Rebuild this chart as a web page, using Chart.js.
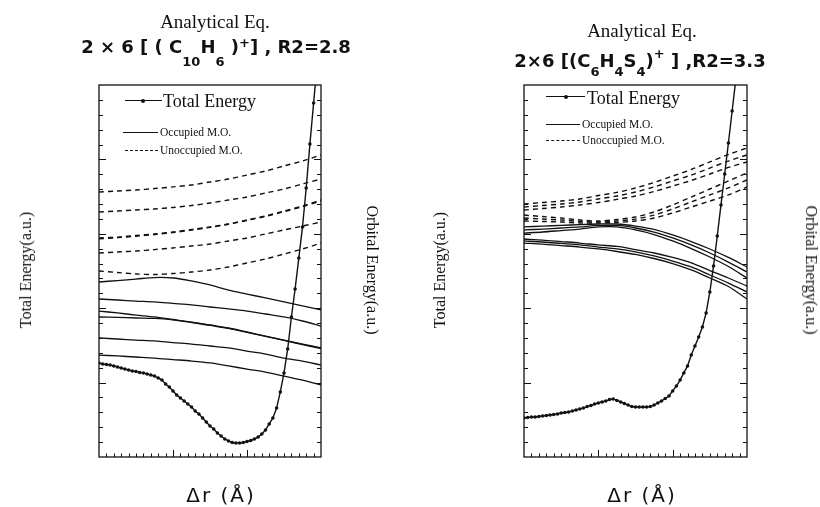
<!DOCTYPE html>
<html><head><meta charset="utf-8">
<script src="https://cdn.jsdelivr.net/npm/chart.js@4.4.1/dist/chart.umd.min.js"></script>
<style>
html,body{margin:0;padding:0;background:#fff;}
body{width:820px;height:507px;position:relative;overflow:hidden;font-family:"Liberation Serif","Times New Roman",serif;color:#111;}
canvas{position:absolute;top:0;}
.t{position:absolute;white-space:nowrap;line-height:1;}
.c{transform:translateX(-50%);}
.rl{transform:translate(-50%,-50%) rotate(-90deg);font-size:16px;}
.rr{transform:translate(-50%,-50%) rotate(90deg);font-size:16px;}
.f{font-family:"DejaVu Sans",sans-serif;font-weight:bold;font-size:18px;}
.f .s{position:relative;font-size:13px;}
.f .p{position:relative;font-size:13px;}
.dr{font-family:"DejaVu Sans",sans-serif;font-size:20px;letter-spacing:2px;}
.ln{position:absolute;height:0;border-top:1.3px solid #111;}
.ds{position:absolute;height:0;border-top:1.3px dashed #111;}
.dot{position:absolute;width:4px;height:4px;border-radius:50%;background:#111;}
.lg{font-size:18px;}
.lg2{font-size:11.5px;}
</style>
</head><body>
<canvas id="cL" width="410" height="507" style="left:0"></canvas>
<canvas id="cR" width="410" height="507" style="left:410px"></canvas>

<div class="t c" style="left:215px;top:12px;font-size:19px;">Analytical Eq.</div>
<div class="t c f" style="left:216px;top:38px;">2 × 6 [ ( C<span class="s" style="top:13px">10</span>H<span class="s" style="top:13px">6</span> )<span class="p" style="top:-6px">+</span>] , R2=2.8</div>
<div class="t c" style="left:642px;top:21px;font-size:19px;">Analytical Eq.</div>
<div class="t c f" style="left:640px;top:52px;">2×6 [(C<span class="s" style="top:9px">6</span>H<span class="s" style="top:9px">4</span>S<span class="s" style="top:9px">4</span>)<span class="p" style="top:-9px">+</span> ] ,R2=3.3</div>

<div class="t rl" style="left:26px;top:270px;">Total Energy(a.u.)</div>
<div class="t rr" style="left:372px;top:270px;">Orbital Energy(a.u.)</div>
<div class="t rl" style="left:440px;top:270px;">Total Energy(a.u.)</div>
<div class="t rr" style="left:811px;top:270px;">Orbital Energy(a.u.)</div>

<div class="t c dr" style="left:221px;top:485px;">Δr (Å)</div>
<div class="t c dr" style="left:642px;top:485px;">Δr (Å)</div>

<!-- legends -->
<div class="ln" style="left:125px;top:100px;width:37px;"></div><div class="dot" style="left:141px;top:99px;"></div>
<div class="t lg" style="left:163px;top:92px;">Total Energy</div>
<div class="ln" style="left:123px;top:132px;width:35px;"></div>
<div class="t lg2" style="left:160px;top:127px;">Occupied M.O.</div>
<div class="ds" style="left:125px;top:150px;width:33px;"></div>
<div class="t lg2" style="left:160px;top:145px;">Unoccupied M.O.</div>

<div class="ln" style="left:546px;top:96px;width:39px;"></div><div class="dot" style="left:564px;top:95px;"></div>
<div class="t lg" style="left:587px;top:89px;">Total Energy</div>
<div class="ln" style="left:546px;top:124px;width:34px;"></div>
<div class="t lg2" style="left:582px;top:119px;">Occupied M.O.</div>
<div class="ds" style="left:546px;top:140px;width:34px;"></div>
<div class="t lg2" style="left:582px;top:135px;">Unoccupied M.O.</div>

<script>
// ---- data ----
const xTotalL = [0,0.05,0.1,0.15,0.2,0.25,0.3,0.35,0.4,0.45,0.5,0.55,0.6,0.65,0.7,0.75,0.8,0.85,0.9,0.95,1,1.05,1.1,1.15,1.2,1.25,1.3,1.35,1.4,1.45,1.5,1.55,1.6,1.65,1.7,1.75,1.8,1.85,1.9,1.95,2,2.05,2.1,2.15,2.2,2.25,2.3,2.35,2.4,2.45,2.5,2.55,2.6,2.65,2.7,2.75,2.8,2.85,2.9,2.95];
const totalL = [6.32,6.25,6.22,6.18,6.12,6.05,5.98,5.91,5.85,5.78,5.75,5.68,5.65,5.58,5.51,5.44,5.31,5.17,4.91,4.70,4.44,4.17,3.97,3.76,3.56,3.36,3.09,2.89,2.62,2.35,2.08,1.88,1.61,1.41,1.21,1.08,0.97,0.94,0.94,0.97,1.04,1.11,1.21,1.34,1.55,1.81,2.22,2.62,3.29,4.37,5.65,7.26,9.41,11.29,13.37,15.46,18.08,21.03,23.79,26.5];
const xTotalR = [0,0.05,0.1,0.15,0.2,0.25,0.3,0.35,0.4,0.45,0.5,0.55,0.6,0.65,0.7,0.75,0.8,0.85,0.9,0.95,1,1.05,1.1,1.15,1.2,1.25,1.3,1.35,1.4,1.45,1.5,1.55,1.6,1.65,1.7,1.75,1.8,1.85,1.9,1.95,2,2.05,2.1,2.15,2.2,2.25,2.3,2.35,2.4,2.45,2.5,2.55,2.6,2.65,2.7,2.75,2.8,2.85];
const totalR = [2.62,2.65,2.69,2.69,2.72,2.76,2.79,2.82,2.86,2.89,2.96,2.99,3.02,3.09,3.16,3.23,3.29,3.39,3.46,3.56,3.63,3.70,3.76,3.86,3.90,3.80,3.70,3.60,3.49,3.39,3.36,3.36,3.36,3.36,3.39,3.49,3.63,3.76,3.93,4.10,4.44,4.77,5.17,5.65,6.12,6.85,7.46,8.06,8.74,9.68,11.09,12.84,14.85,16.94,19.02,21.10,23.25,25.40];

const xOrb = [0,0.25,0.5,0.75,1,1.25,1.5,1.75,2,2.25,2.5,2.75,3];

const occL1 = [11.76,11.86,11.96,12.06,12.03,11.83,11.56,11.22,10.95,10.69,10.42,10.15,9.88];
const occL2 = [10.62,10.55,10.48,10.42,10.32,10.22,10.08,9.95,9.81,9.61,9.41,9.14,8.80];
const occL3 = [9.81,9.68,9.54,9.41,9.24,9.07,8.87,8.67,8.40,8.13,7.86,7.59,7.33];
const occL4 = [9.41,9.38,9.34,9.31,9.21,9.04,8.84,8.64,8.37,8.10,7.83,7.56,7.29];
const occL5 = [8.00,7.93,7.86,7.80,7.69,7.59,7.46,7.33,7.12,6.92,6.65,6.45,6.18];
const occL6 = [6.85,6.79,6.72,6.65,6.55,6.45,6.32,6.12,5.91,5.71,5.44,5.17,4.84];

const unoL1 = [17.81,17.88,17.94,18.04,18.15,18.28,18.48,18.68,18.95,19.22,19.56,19.89,20.30];
const unoL2 = [16.47,16.53,16.60,16.67,16.77,16.90,17.07,17.27,17.47,17.74,18.01,18.35,18.68];
const unoL3 = [14.72,14.78,14.89,14.99,15.12,15.29,15.46,15.66,15.93,16.20,16.53,16.87,17.27];
const unoL4 = [14.66,14.74,14.84,14.95,15.08,15.25,15.43,15.64,15.90,16.17,16.49,16.82,17.20];
const unoL5 = [13.71,13.78,13.84,13.94,14.05,14.18,14.31,14.52,14.72,14.99,15.26,15.52,15.79];
const unoL6 = [12.50,12.40,12.30,12.26,12.33,12.43,12.57,12.77,13.04,13.31,13.64,13.98,14.38];

const occR1 = [15.46,15.52,15.56,15.62,15.66,15.66,15.52,15.29,14.92,14.48,13.98,13.41,12.77];
const occR2 = [15.26,15.32,15.39,15.46,15.56,15.56,15.39,15.12,14.72,14.25,13.71,13.10,12.43];
const occR3 = [15.05,15.12,15.22,15.32,15.46,15.46,15.26,14.95,14.52,14.01,13.44,12.80,12.03];
const occR4 = [14.65,14.58,14.48,14.38,14.25,14.15,13.94,13.71,13.41,13.04,12.53,12.03,11.49];
const occR5 = [14.52,14.45,14.35,14.25,14.11,13.98,13.78,13.51,13.17,12.77,12.23,11.69,11.09];
const occR6 = [14.38,14.31,14.21,14.11,13.98,13.81,13.61,13.34,13.00,12.57,12.03,11.46,10.62];

const unoR1 = [17.00,17.10,17.20,17.34,17.57,17.78,18.08,18.45,18.88,19.32,19.83,20.33,20.77];
const unoR2 = [16.80,16.90,17.00,17.14,17.34,17.54,17.81,18.15,18.55,18.95,19.42,19.89,20.30];
const unoR3 = [16.60,16.70,16.80,16.94,17.10,17.31,17.54,17.84,18.21,18.58,19.02,19.46,19.83];
const unoR4 = [16.26,16.16,16.06,15.93,15.86,15.96,16.13,16.47,16.94,17.47,18.01,18.55,19.09];
const unoR5 = [16.06,15.99,15.93,15.83,15.79,15.86,15.99,16.26,16.67,17.14,17.61,18.08,18.62];
const unoR6 = [15.86,15.83,15.79,15.73,15.73,15.76,15.86,16.06,16.40,16.80,17.20,17.61,18.15];

// axis ranges / tick steps
const xMin = 0, xMax = 3, xMinor = 0.1, xMajor = 1;
const yMin = 0, yMax = 25, yMinor = 1, yMajor = 5;

const INK = '#111';

const framePlugin = {
  id: 'frame',
  afterDraw(chart) {
    const {ctx, chartArea: a, scales} = chart;
    ctx.save();
    ctx.strokeStyle = INK;
    ctx.lineWidth = 1.3;
    ctx.strokeRect(a.left, a.top, a.right - a.left, a.bottom - a.top);
    ctx.lineWidth = 1;
    ctx.beginPath();
    const nx = Math.round((xMax - xMin) / xMinor);
    for (let i = 1; i < nx; i++) {
      const v = xMin + i * xMinor;
      const px = Math.round(scales.x.getPixelForValue(v)) + 0.5;
      const len = (i % Math.round(xMajor / xMinor) === 0) ? 7 : 3.5;
      ctx.moveTo(px, a.bottom); ctx.lineTo(px, a.bottom - len);
    }
    const ny = Math.round((yMax - yMin) / yMinor);
    for (let i = 1; i < ny; i++) {
      const v = yMin + i * yMinor;
      const major = (i % Math.round(yMajor / yMinor) === 0);
      const pl = Math.round(scales.y.getPixelForValue(v)) + 0.5;
      const pr = Math.round(scales.y2.getPixelForValue(v)) + 0.5;
      ctx.moveTo(a.left, pl); ctx.lineTo(a.left + (major ? 7 : 4), pl);
      ctx.moveTo(a.right, pr); ctx.lineTo(a.right - (major ? 7 : 4), pr);
    }
    ctx.stroke();
    ctx.restore();
  }
};

function pts(xs, ys) { return xs.map((x, i) => ({x, y: ys[i]})); }

function makePanel(id, pad, xT, tot, occ, uno) {
  const datasets = [{
    label: 'Total Energy', data: pts(xT, tot), yAxisID: 'y',
    borderColor: INK, borderWidth: 1.4, pointRadius: 1.8, pointBackgroundColor: INK,
    pointBorderWidth: 0, tension: 0
  }];
  occ.forEach(s => datasets.push({
    label: 'Occupied M.O.', data: pts(xOrb, s), yAxisID: 'y2',
    borderColor: INK, borderWidth: 1.3, pointRadius: 0, tension: 0.3
  }));
  uno.forEach(s => datasets.push({
    label: 'Unoccupied M.O.', data: pts(xOrb, s), yAxisID: 'y2',
    borderColor: INK, borderWidth: 1.4, borderDash: [5, 4], pointRadius: 0, tension: 0.3
  }));
  new Chart(document.getElementById(id), {
    type: 'line',
    data: {datasets},
    options: {
      responsive: false, animation: false, devicePixelRatio: 1,
      layout: {padding: pad},
      plugins: {legend: {display: false}, tooltip: {enabled: false}, title: {display: false}},
      scales: {
        x: {type: 'linear', min: xMin, max: xMax, display: false},
        y: {type: 'linear', min: yMin, max: yMax, display: false, position: 'left'},
        y2: {type: 'linear', min: yMin, max: yMax, display: false, position: 'right'}
      }
    },
    plugins: [framePlugin]
  });
}

makePanel('cL', {left: 99, right: 89, top: 85, bottom: 50}, xTotalL, totalL,
  [occL1, occL2, occL3, occL4, occL5, occL6], [unoL1, unoL2, unoL3, unoL4, unoL5, unoL6]);
makePanel('cR', {left: 114, right: 73, top: 85, bottom: 50}, xTotalR, totalR,
  [occR1, occR2, occR3, occR4, occR5, occR6], [unoR1, unoR2, unoR3, unoR4, unoR5, unoR6]);
</script>
</body></html>
